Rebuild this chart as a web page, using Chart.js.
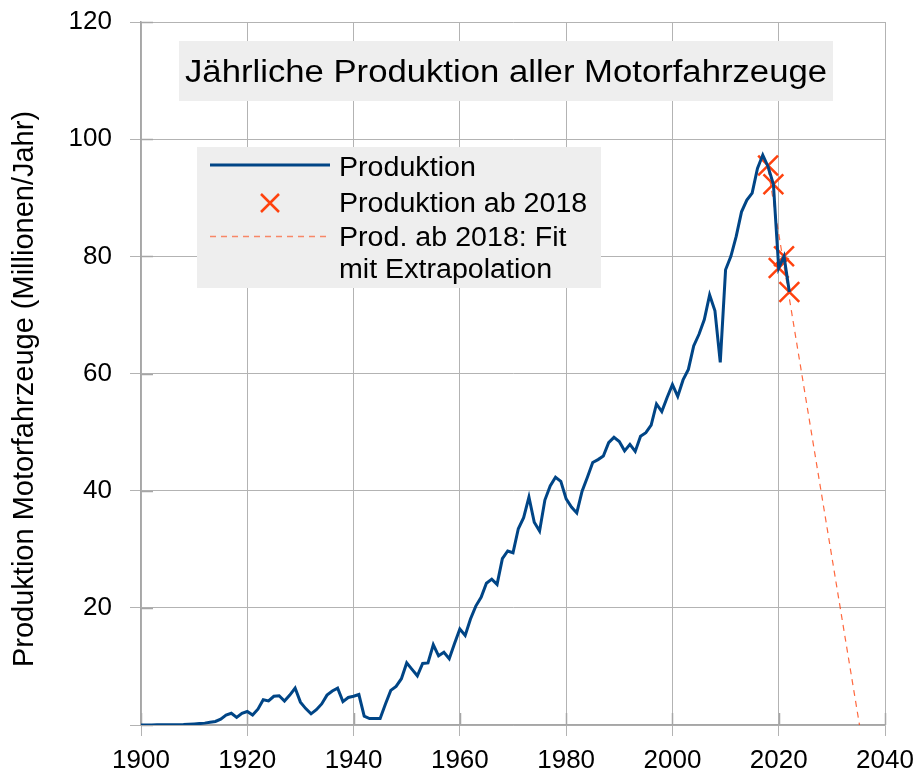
<!DOCTYPE html>
<html>
<head>
<meta charset="utf-8">
<script src="https://cdn.jsdelivr.net/npm/chart.js@4.4.1/dist/chart.umd.min.js"></script>
<style>
  html, body { margin: 0; padding: 0; background: #fff; }
  #wrap { width: 920px; height: 774px; }
</style>
</head>
<body>
<div id="wrap"><canvas id="chart" width="920" height="774"></canvas></div>
<script>
// Jährliche Produktion (Millionen), ab 1900, ein Wert pro Jahr
const startYear = 1900;
const production = [
  0.01, 0.01, 0.02, 0.03, 0.03, 0.04, 0.05, 0.06, 0.07, 0.13,   // 1900-1909
  0.18, 0.24, 0.32, 0.48, 0.6, 1.0, 1.7, 2.0, 1.3, 2.0,          // 1910-1919
  2.3, 1.7, 2.7, 4.3, 4.1, 4.9, 5.0, 4.1, 5.1, 6.3,              // 1920-1929
  3.9, 2.8, 1.9, 2.6, 3.6, 5.1, 5.8, 6.3, 4.0, 4.7,              // 1930-1939
  4.9, 5.2, 1.5, 1.1, 1.1, 1.1, 3.6, 5.9, 6.6, 7.9,              // 1940-1949
  10.6, 9.5, 8.4, 10.5, 10.6, 13.7, 11.8, 12.4, 11.3, 13.9,      // 1950-1959
  16.4, 15.3, 18.1, 20.3, 21.8, 24.2, 24.9, 24.0, 28.4, 29.7,    // 1960-1969
  29.4, 33.5, 35.4, 38.9, 34.6, 33.1, 38.4, 40.8, 42.3, 41.6,    // 1970-1979
  38.6, 37.2, 36.2, 39.9, 42.3, 44.8, 45.3, 45.9, 48.2, 49.1,    // 1980-1989
  48.4, 46.8, 47.9, 46.7, 49.3, 49.9, 51.2, 54.8, 53.5, 55.9,    // 1990-1999
  58.1, 56.1, 58.9, 60.7, 64.7, 66.7, 69.2, 73.4, 70.7, 61.9,    // 2000-2009
  77.7, 80.0, 83.4, 87.6, 89.6, 90.8, 95.0, 97.3, 95.3, 92.3,    // 2010-2019
  78.0, 80.0, 73.9                                               // 2020-2022
];
const years = production.map((v, i) => startYear + i);

// Produktion ab 2018 (Kreuze)
const recentYears = [2018, 2019, 2020, 2021, 2022];
const recentProduction = [95.5, 92.3, 78.0, 80.0, 73.9];

// linearer Fit mit Extrapolation (Endpunkte)
const fitYears = [2018, 2035.2];
const fitProduction = [94.9, 0];

const xTicks = [1900, 1920, 1940, 1960, 1980, 2000, 2020, 2040];
const yTicks = [0, 20, 40, 60, 80, 100, 120];

const titleText = 'Jährliche Produktion aller Motorfahrzeuge';
const yTitleText = 'Produktion Motorfahrzeuge (Millionen/Jahr)';
const legendLabels = ['Produktion', 'Produktion ab 2018', 'Prod. ab 2018: Fit', 'mit Extrapolation'];

const FONT = '"Liberation Sans", Arial, sans-serif';
const BLUE = '#004586';
const ORANGE = '#ff420e';
const GRID = '#b3b3b3';

function toPoints(xs, ys) {
  return xs.map((x, i) => ({ x: x, y: ys[i] }));
}

// draws text stretched horizontally
function stretchText(ctx, text, x, y, sx) {
  ctx.save();
  ctx.translate(x, y);
  ctx.scale(sx, 1);
  ctx.fillText(text, 0, 0);
  ctx.restore();
}

// fixed axis box sizes, no extra label padding
function fixBox(s, w, h) {
  if (w) s.width = w;
  if (h) s.height = h;
  s.paddingTop = 0;
  s.paddingBottom = 0;
  s.paddingLeft = 0;
  s.paddingRight = 0;
}

const decorations = {
  id: 'decorations',
  beforeDatasetsDraw(chart) {
    const ctx = chart.ctx;
    const area = chart.chartArea;
    const xs = chart.scales.x;
    const ys = chart.scales.y;
    ctx.save();

    // small ticks on the inside of the axes
    ctx.strokeStyle = '#a6a6a6';
    ctx.lineWidth = 1.5;
    ctx.beginPath();
    yTicks.forEach(v => {
      const py = Math.round(ys.getPixelForValue(v)) + 0.5;
      ctx.moveTo(area.left, py);
      ctx.lineTo(area.left + 12, py);
    });
    xTicks.forEach(v => {
      const px = Math.round(xs.getPixelForValue(v)) + 0.5;
      ctx.moveTo(px, area.bottom);
      ctx.lineTo(px, area.bottom - 12);
    });
    ctx.stroke();

    // title box
    ctx.fillStyle = '#eeeeee';
    ctx.fillRect(179, 41, 654, 60);
    ctx.fillStyle = '#000';
    ctx.font = '31px ' + FONT;
    ctx.textAlign = 'center';
    ctx.textBaseline = 'alphabetic';
    stretchText(ctx, titleText, 506, 82, 642 / ctx.measureText(titleText).width);

    // legend box
    ctx.fillStyle = '#eeeeee';
    ctx.fillRect(197, 147, 404, 141);

    ctx.strokeStyle = BLUE;
    ctx.lineWidth = 3;
    ctx.beginPath();
    ctx.moveTo(210, 165);
    ctx.lineTo(330, 165);
    ctx.stroke();

    ctx.strokeStyle = ORANGE;
    ctx.lineWidth = 2.5;
    ctx.beginPath();
    ctx.moveTo(261, 194);
    ctx.lineTo(279, 212);
    ctx.moveTo(279, 194);
    ctx.lineTo(261, 212);
    ctx.stroke();

    ctx.strokeStyle = 'rgba(255,66,14,0.6)';
    ctx.lineWidth = 1.5;
    ctx.setLineDash([6, 5]);
    ctx.beginPath();
    ctx.moveTo(210, 236.5);
    ctx.lineTo(328, 236.5);
    ctx.stroke();
    ctx.setLineDash([]);

    ctx.fillStyle = '#000';
    ctx.font = '27px ' + FONT;
    ctx.textAlign = 'left';
    const baselines = [176, 211.5, 246, 277.5];
    legendLabels.forEach((t, i) => stretchText(ctx, t, 339, baselines[i], 1.06));

    // y axis title
    ctx.save();
    ctx.translate(25, 389);
    ctx.rotate(-Math.PI / 2);
    ctx.font = '29px ' + FONT;
    ctx.textAlign = 'center';
    ctx.textBaseline = 'middle';
    ctx.fillText(yTitleText, 0, 0);
    ctx.restore();

    ctx.restore();
  }
};

new Chart(document.getElementById('chart'), {
  type: 'scatter',
  data: {
    datasets: [
      {
        label: legendLabels[0],
        data: toPoints(years, production),
        showLine: true,
        borderColor: BLUE,
        backgroundColor: BLUE,
        borderWidth: 3,
        pointRadius: 0,
        tension: 0,
        order: 0
      },
      {
        label: legendLabels[1],
        data: toPoints(recentYears, recentProduction),
        showLine: false,
        pointStyle: 'crossRot',
        pointRadius: 14,
        pointBorderWidth: 2.5,
        borderColor: ORANGE,
        backgroundColor: ORANGE,
        order: 1
      },
      {
        label: 'Prod. ab 2018: Fit mit Extrapolation',
        data: toPoints(fitYears, fitProduction),
        showLine: true,
        borderColor: 'rgba(255,66,14,0.8)',
        borderWidth: 1.2,
        borderDash: [6, 5],
        pointRadius: 0,
        order: 2
      }
    ]
  },
  options: {
    responsive: false,
    animation: false,
    devicePixelRatio: 1,
    layout: { padding: { top: 22, right: 35, left: 0, bottom: 0 } },
    plugins: {
      legend: { display: false },
      tooltip: { enabled: false },
      title: { display: false }
    },
    scales: {
      x: {
        type: 'linear',
        min: 1900,
        max: 2040,
        afterBuildTicks: s => { s.ticks = xTicks.map(v => ({ value: v })); },
        afterFit: s => fixBox(s, 0, 49),
        ticks: {
          autoSkip: false,
          maxRotation: 0,
          color: '#000',
          padding: 9,
          font: { family: FONT, size: 26 },
          callback: v => String(v)
        },
        grid: { color: GRID, lineWidth: 1, tickLength: 11 },
        border: { color: '#a6a6a6', width: 1.5 }
      },
      y: {
        min: 0,
        max: 120,
        afterBuildTicks: s => { s.ticks = yTicks.map(v => ({ value: v })); },
        afterFit: s => fixBox(s, 141, 0),
        ticks: {
          color: '#000',
          padding: 18,
          font: { family: FONT, size: 26 },
          callback: v => (v === 0 ? '' : String(v))
        },
        grid: { color: GRID, lineWidth: 1, tickLength: 11 },
        border: { color: '#a6a6a6', width: 1.5 }
      }
    }
  },
  plugins: [decorations]
});
</script>
</body>
</html>
